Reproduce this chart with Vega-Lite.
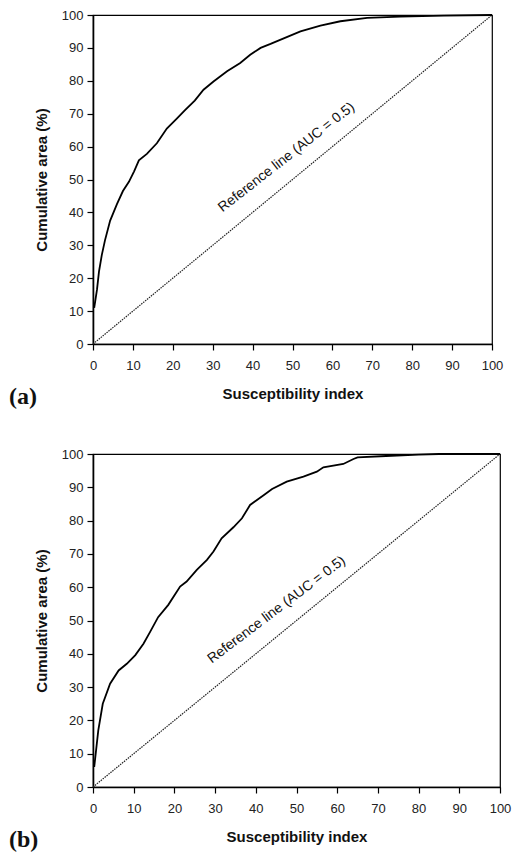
{
  "$schema": "https://vega.github.io/schema/vega-lite/v6.json",
  "padding": {"top": 8, "left": 8, "right": 5, "bottom": 5},
  "background": "white",
  "spacing": 37,
  "datasets": {
    "diag": [{"x": 0, "y": 0}, {"x": 100, "y": 100}],
    "curveA": [
      {"x": 0.3, "y": 11}, {"x": 1, "y": 16.5}, {"x": 1.5, "y": 22}, {"x": 2.2, "y": 27}, {"x": 3, "y": 31.5},
      {"x": 4.3, "y": 37.5}, {"x": 6, "y": 42.5}, {"x": 7.5, "y": 46.5}, {"x": 9, "y": 49.3}, {"x": 10.3, "y": 52.5},
      {"x": 11.5, "y": 55.8}, {"x": 13.5, "y": 57.8}, {"x": 16, "y": 61}, {"x": 18.5, "y": 65.5}, {"x": 21, "y": 68.5},
      {"x": 23, "y": 71}, {"x": 25.5, "y": 74}, {"x": 27.7, "y": 77.3}, {"x": 30.2, "y": 79.8}, {"x": 33.6, "y": 82.9},
      {"x": 36.9, "y": 85.4}, {"x": 39.4, "y": 87.9}, {"x": 42, "y": 90}, {"x": 44.5, "y": 91.2}, {"x": 47.8, "y": 92.9},
      {"x": 52, "y": 95}, {"x": 57, "y": 96.8}, {"x": 62, "y": 98.1}, {"x": 68.7, "y": 99.1}, {"x": 77, "y": 99.5},
      {"x": 88, "y": 99.8}, {"x": 100, "y": 100}
    ],
    "curveB": [
      {"x": 0.3, "y": 6}, {"x": 1.3, "y": 17}, {"x": 2.4, "y": 25}, {"x": 4.2, "y": 31}, {"x": 6.3, "y": 35},
      {"x": 8.3, "y": 37}, {"x": 10.4, "y": 39.6}, {"x": 12.4, "y": 43}, {"x": 14, "y": 46.5}, {"x": 16, "y": 51},
      {"x": 18.5, "y": 54.7}, {"x": 21.4, "y": 60.2}, {"x": 23, "y": 61.7}, {"x": 25.5, "y": 65.2}, {"x": 28, "y": 68.2},
      {"x": 29.6, "y": 70.7}, {"x": 31.6, "y": 74.7}, {"x": 34.5, "y": 78}, {"x": 36.6, "y": 80.7}, {"x": 38.6, "y": 84.7},
      {"x": 42, "y": 87.7}, {"x": 44, "y": 89.5}, {"x": 47.6, "y": 91.7}, {"x": 51.7, "y": 93.2}, {"x": 55, "y": 94.7},
      {"x": 56.6, "y": 96}, {"x": 61.5, "y": 97}, {"x": 64, "y": 98.5}, {"x": 65, "y": 99}, {"x": 72, "y": 99.4},
      {"x": 80, "y": 99.8}, {"x": 85, "y": 100}, {"x": 100, "y": 100}
    ],
    "labelA": [{"x": 48.5, "y": 56.7, "t": "Reference line (AUC = 0.5)"}],
    "labelB": [{"x": 45.1, "y": 53.2, "t": "Reference line (AUC = 0.5)"}]
  },
  "config": {
    "view": {"stroke": "#000", "strokeWidth": 1.2},
    "axis": {
      "domainColor": "#000", "domainWidth": 1.6, "tickColor": "#000", "tickWidth": 1.2, "tickSize": 6,
      "labelFont": "Liberation Sans", "labelFontSize": 13, "labelColor": "#222",
      "labelFlush": false,
      "titleFont": "Liberation Sans", "titleFontSize": 15, "titleFontWeight": "bold", "titleColor": "#111",
      "grid": false
    },
    "axisX": {"labelPadding": 9, "titlePadding": 14},
    "axisY": {"labelPadding": 4, "titlePadding": 12},
    "title": {"font": "Liberation Serif", "fontSize": 24, "fontWeight": "bold", "color": "#111", "orient": "bottom", "anchor": "start", "frame": "group"}
  },
  "vconcat": [
    {
      "width": 399, "height": 329,
      "title": {"text": "(a)", "dx": -84, "offset": -16},
      "layer": [
        {
          "data": {"name": "diag"},
          "mark": {"type": "line", "color": "#222", "strokeWidth": 1.2, "strokeDash": [1.5, 1]},
          "encoding": {
            "x": {"field": "x", "type": "quantitative", "scale": {"domain": [0, 100], "nice": false},
                  "axis": {"values": [0,10,20,30,40,50,60,70,80,90,100], "tickCount": 11, "labelOverlap": false, "labelFlush": false, "title": "Susceptibility index"}},
            "y": {"field": "y", "type": "quantitative", "scale": {"domain": [0, 100], "nice": false},
                  "axis": {"values": [0,10,20,30,40,50,60,70,80,90,100], "tickCount": 11, "labelOverlap": false, "labelFlush": false, "title": "Cumulative area (%)"}}
          }
        },
        {
          "data": {"name": "curveA"},
          "mark": {"type": "line", "color": "#000", "strokeWidth": 1.8},
          "encoding": {"x": {"field": "x", "type": "quantitative"}, "y": {"field": "y", "type": "quantitative"}}
        },
        {
          "data": {"name": "labelA"},
          "mark": {"type": "text", "angle": 322, "font": "Liberation Sans", "fontSize": 14, "color": "#111", "align": "center", "baseline": "middle"},
          "encoding": {"x": {"field": "x", "type": "quantitative"}, "y": {"field": "y", "type": "quantitative"}, "text": {"field": "t"}}
        }
      ]
    },
    {
      "width": 407, "height": 333,
      "title": {"text": "(b)", "dx": -84, "offset": -16},
      "layer": [
        {
          "data": {"name": "diag"},
          "mark": {"type": "line", "color": "#222", "strokeWidth": 1.2, "strokeDash": [1.5, 1]},
          "encoding": {
            "x": {"field": "x", "type": "quantitative", "scale": {"domain": [0, 100], "nice": false},
                  "axis": {"values": [0,10,20,30,40,50,60,70,80,90,100], "tickCount": 11, "labelOverlap": false, "labelFlush": false, "title": "Susceptibility index"}},
            "y": {"field": "y", "type": "quantitative", "scale": {"domain": [0, 100], "nice": false},
                  "axis": {"values": [0,10,20,30,40,50,60,70,80,90,100], "tickCount": 11, "labelOverlap": false, "labelFlush": false, "title": "Cumulative area (%)"}}
          }
        },
        {
          "data": {"name": "curveB"},
          "mark": {"type": "line", "color": "#000", "strokeWidth": 1.8},
          "encoding": {"x": {"field": "x", "type": "quantitative"}, "y": {"field": "y", "type": "quantitative"}}
        },
        {
          "data": {"name": "labelB"},
          "mark": {"type": "text", "angle": 323, "font": "Liberation Sans", "fontSize": 14, "color": "#111", "align": "center", "baseline": "middle"},
          "encoding": {"x": {"field": "x", "type": "quantitative"}, "y": {"field": "y", "type": "quantitative"}, "text": {"field": "t"}}
        }
      ]
    }
  ]
}
